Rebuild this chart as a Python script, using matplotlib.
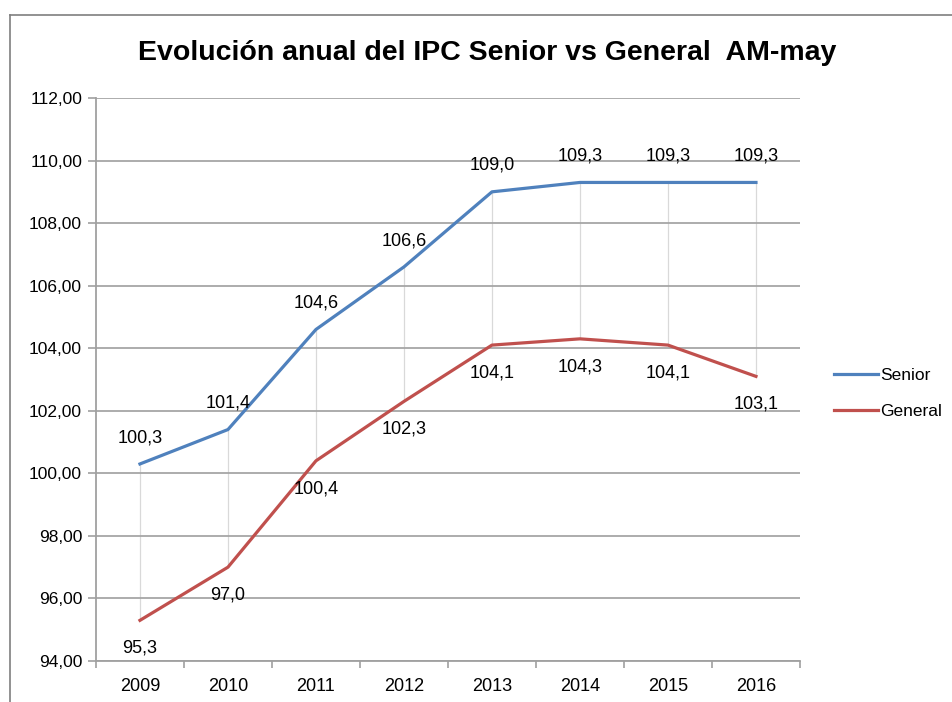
import numpy as np
import matplotlib.pyplot as plt
from matplotlib.lines import Line2D

years = ["2009", "2010", "2011", "2012", "2013", "2014", "2015", "2016"]
senior = [100.3, 101.4, 104.6, 106.6, 109.0, 109.3, 109.3, 109.3]
general = [95.3, 97.0, 100.4, 102.3, 104.1, 104.3, 104.1, 103.1]
y_ticks = [94, 96, 98, 100, 102, 104, 106, 108, 110, 112]

plt.rcParams['font.family'] = ['Liberation Sans', 'DejaVu Sans']

fig = plt.figure(figsize=(9.52, 7.02), dpi=100)
ax = fig.add_axes([0.1008, 0.0584, 0.7395, 0.802])

x = np.arange(len(years))

# high-low lines between the two series
ax.vlines(x, general, senior, color='#d9d9d9', lw=0.9, zorder=1)

ax.plot(x, senior, color='#4f81bd', lw=2.3, label='Senior', zorder=3)
ax.plot(x, general, color='#c0504d', lw=2.3, label='General', zorder=3)

for xi, v in zip(x, senior):
    ax.annotate(f"{v:.1f}".replace('.', ','), (xi, v), xytext=(0, 19),
                textcoords='offset points', ha='center', va='center', fontsize=13)
for xi, v in zip(x, general):
    ax.annotate(f"{v:.1f}".replace('.', ','), (xi, v), xytext=(0, -20),
                textcoords='offset points', ha='center', va='center', fontsize=13)

ax.set_xlim(-0.5, len(years) - 0.5)
ax.set_ylim(94, 112)
ax.set_yticks(y_ticks)
ax.set_yticklabels([f"{t},00" for t in y_ticks], fontsize=12.5)
ax.set_xticks(x)
ax.set_xticklabels(years, fontsize=13)
ax.set_xticks(np.arange(-0.5, len(years)), minor=True)
ax.tick_params(axis='x', which='major', length=0, pad=12)
ax.tick_params(axis='x', which='minor', length=5, color='#a0a0a0', width=1.2)
ax.tick_params(axis='y', length=6, color='#a0a0a0', width=1.2, pad=4)

ax.grid(axis='y', color='#a6a6a6', lw=1.3, zorder=0)
for s in ['top', 'right']:
    ax.spines[s].set_visible(False)
for s in ['left', 'bottom']:
    ax.spines[s].set_color('#a0a0a0')
    ax.spines[s].set_linewidth(1.3)

fig.legend(loc='center left', bbox_to_anchor=(0.86, 0.44), frameon=False,
           fontsize=12.5, handlelength=2.5, handletextpad=0.15, labelspacing=1.2)

fig.text(0.512, 0.924, "Evolución anual del IPC Senior vs General  AM-may",
         ha='center', va='center', fontsize=20.5, fontweight='bold')

# outer chart frame (cropped on right and bottom)
fig.add_artist(Line2D([10 / 952, 1.0], [1 - 15 / 702, 1 - 15 / 702],
                      transform=fig.transFigure, color='#7f7f7f', lw=1.2))
fig.add_artist(Line2D([10 / 952, 10 / 952], [0.0, 1 - 15 / 702],
                      transform=fig.transFigure, color='#7f7f7f', lw=1.2))

fig.savefig('out.png', dpi=100)
